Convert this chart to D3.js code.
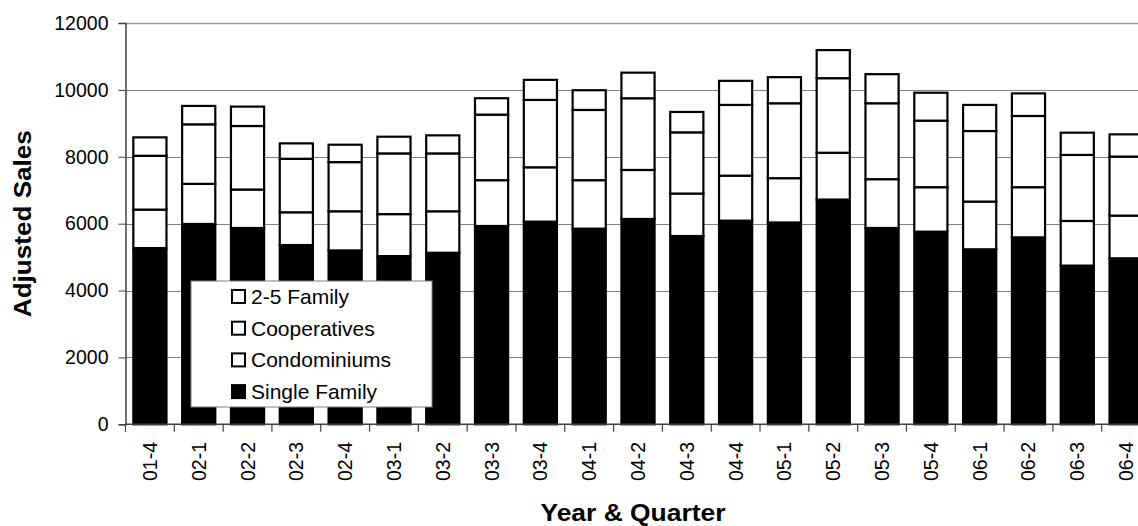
<!DOCTYPE html>
<html>
<head>
<meta charset="utf-8">
<script src="https://cdn.jsdelivr.net/npm/d3@7"></script>
<style>
  html, body { margin: 0; padding: 0; background: #fff; }
  svg { display: block; font-family: "Liberation Sans", Arial, sans-serif; }
</style>
</head>
<body>
<svg id="chart" width="1138" height="526"></svg>
<script>
const categories = ["01-4","02-1","02-2","02-3","02-4","03-1","03-2","03-3","03-4","04-1","04-2","04-3","04-4","05-1","05-2","05-3","05-4","06-1","06-2","06-3","06-4"];
const singleFamily = [5270,5990,5870,5360,5200,5030,5130,5930,6060,5850,6140,5630,6090,6035,6720,5870,5760,5233,5590,4745,4965];
const condominiums = [1150,1200,1150,980,1170,1255,1240,1370,1625,1450,1465,1270,1345,1325,1400,1460,1330,1427,1500,1335,1275];
const cooperatives = [1610,1780,1900,1600,1470,1815,1730,1960,2015,2100,2145,1830,2115,2240,2230,2270,1990,2110,2130,1975,1765];
const twoToFive = [550,550,580,460,520,500,540,490,600,590,765,610,720,780,840,870,835,780,675,665,665];
const seriesNames = ["Single Family","Condominiums","Cooperatives","2-5 Family"];
const seriesFill = ["#000000","#ffffff","#ffffff","#ffffff"];
const yTicks = [0,2000,4000,6000,8000,10000,12000];
const yTitle = "Adjusted Sales";
const xTitle = "Year & Quarter";

const svg = d3.select("#chart");
const plot = {left: 125.5, right: 1150.5, top: 23, bottom: 424.3};

const rows = categories.map((c, i) => ({
  cat: c,
  "Single Family": singleFamily[i],
  "Condominiums": condominiums[i],
  "Cooperatives": cooperatives[i],
  "2-5 Family": twoToFive[i]
}));
const stacked = d3.stack().keys(seriesNames)(rows);

const x = d3.scaleBand().domain(categories).range([plot.left, plot.right])
  .paddingInner(0.28).paddingOuter(0.14);
const y = d3.scaleLinear().domain([0, 12000]).range([plot.bottom, plot.top]);

// gridlines
svg.append("g").selectAll("line").data(yTicks.filter(d => d > 0)).join("line")
  .attr("x1", plot.left).attr("x2", 1138)
  .attr("y1", d => Math.round(y(d)) + 0.5).attr("y2", d => Math.round(y(d)) + 0.5)
  .attr("stroke", d => d === 12000 ? "#9a9a9a" : "#808080")
  .attr("stroke-width", d => d === 12000 ? 1.5 : 1);

// bars
const g = svg.append("g");
stacked.forEach((s, si) => {
  g.append("g").selectAll("rect").data(s).join("rect")
    .attr("x", d => x(d.data.cat) + 1)
    .attr("width", x.bandwidth() - 2)
    .attr("y", d => y(d[1]))
    .attr("height", d => y(d[0]) - y(d[1]))
    .attr("fill", seriesFill[si])
    .attr("stroke", "#000")
    .attr("stroke-width", 2.2);
});

// y axis
const yAxis = d3.axisLeft(y).tickValues(yTicks).tickSize(7).tickPadding(10).tickFormat(d3.format("d"));
const ya = svg.append("g").attr("transform", `translate(${plot.left},0)`).call(yAxis);
ya.select(".domain").attr("stroke", "#404040").attr("stroke-width", 1.5);
ya.selectAll(".tick line").attr("stroke", "#404040");
ya.selectAll(".tick text").attr("font-size", "19.5px").attr("fill", "#000")
  .attr("font-family", "Liberation Sans, Arial, sans-serif");

// x axis baseline
svg.append("line").attr("x1", plot.left).attr("x2", 1138)
  .attr("y1", y(0)).attr("y2", y(0)).attr("stroke", "#404040").attr("stroke-width", 1.5);

// x tick marks at band boundaries
const step = x.step();
const bounds = categories.map(c => x(c) + x.bandwidth() / 2 - step / 2);
bounds.push(bounds[bounds.length - 1] + step);
svg.append("g").selectAll("line").data(bounds).join("line")
  .attr("x1", d => d).attr("x2", d => d)
  .attr("y1", y(0)).attr("y2", y(0) + 7.5)
  .attr("stroke", "#404040").attr("stroke-width", 1.2);

// x labels
svg.append("g").selectAll("text").data(categories).join("text")
  .attr("transform", d => `translate(${x(d) + x.bandwidth() / 2},442) rotate(-90)`)
  .attr("text-anchor", "end").attr("dominant-baseline", "central")
  .attr("font-size", "19.5px").attr("fill", "#000")
  .text(d => d);

// titles
svg.append("text")
  .attr("transform", `translate(22,${(plot.top + plot.bottom) / 2}) rotate(-90)`)
  .attr("text-anchor", "middle").attr("dominant-baseline", "central")
  .attr("font-size", "24px").attr("font-weight", "bold")
  .attr("textLength", 187).attr("lengthAdjust", "spacingAndGlyphs")
  .text(yTitle);
svg.append("text")
  .attr("x", 633).attr("y", 521)
  .attr("text-anchor", "middle")
  .attr("font-size", "24px").attr("font-weight", "bold")
  .attr("textLength", 185).attr("lengthAdjust", "spacingAndGlyphs")
  .text(xTitle);

// legend
const lg = svg.append("g");
lg.append("rect").attr("x", 191).attr("y", 281).attr("width", 241).attr("height", 126)
  .attr("fill", "#fff").attr("stroke", "#808080").attr("stroke-width", 1);
const legendItems = seriesNames.map((n, i) => ({name: n, fill: seriesFill[i]})).reverse();
legendItems.forEach((it, i) => {
  const cy = 296.5 + i * 31.7;
  lg.append("rect").attr("x", 232).attr("y", cy - 6.5).attr("width", 13).attr("height", 13)
    .attr("fill", it.fill).attr("stroke", "#000").attr("stroke-width", 2);
  lg.append("text").attr("x", 251).attr("y", cy).attr("dominant-baseline", "central")
    .attr("font-size", "21px").attr("fill", "#000").text(it.name);
});
</script>
</body>
</html>
